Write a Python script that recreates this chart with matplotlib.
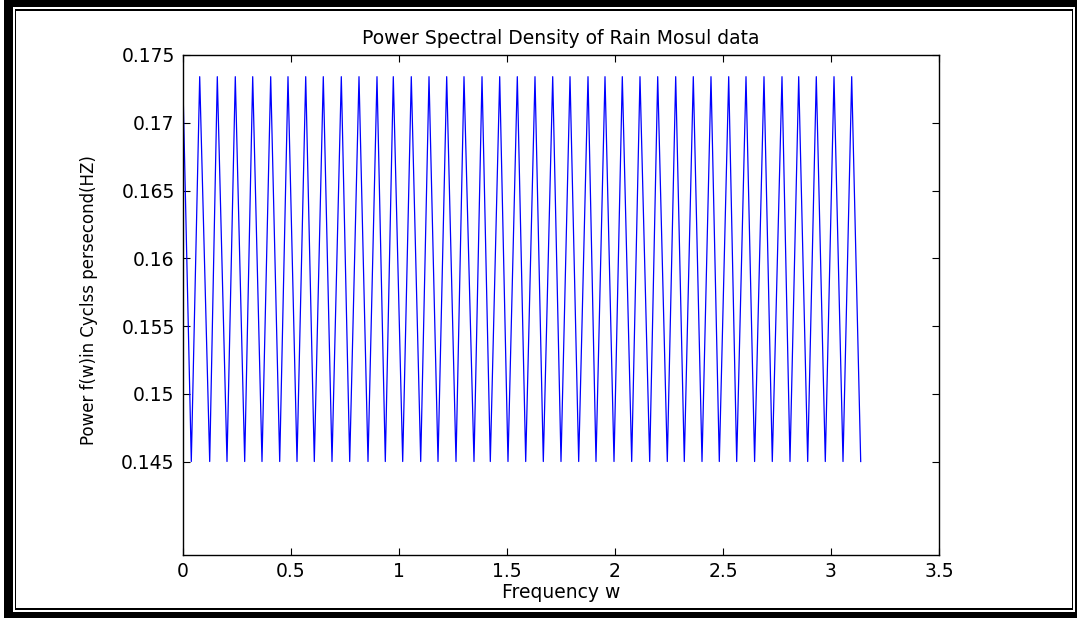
import matplotlib
matplotlib.use("Agg")
import matplotlib.pyplot as plt
from matplotlib.patches import Rectangle

# ---- data ----
start_w = 0.0
start_power = 0.1726
peak_w = [0.0773, 0.1588, 0.2421, 0.3227, 0.4060, 0.4861, 0.5681, 0.6495, 0.7329, 0.8148,
          0.8981, 0.9736, 1.0569, 1.1389, 1.2208, 1.3009, 1.3843, 1.4662, 1.5477, 1.6296,
          1.7116, 1.7917, 1.8750, 1.9537, 2.0338, 2.1157, 2.1977, 2.2810, 2.3625, 2.4444,
          2.5264, 2.6065, 2.6898, 2.7731, 2.8505, 2.9319, 3.0139, 3.0958]
trough_w = [0.0384, 0.1236, 0.2037, 0.2856, 0.3657, 0.4477, 0.5278, 0.6079, 0.6898, 0.7718,
            0.8565, 0.9366, 1.0171, 1.1005, 1.1806, 1.2639, 1.3472, 1.4227, 1.5046, 1.5866,
            1.6681, 1.7500, 1.8319, 1.9120, 1.9954, 2.0773, 2.1606, 2.2421, 2.3208, 2.4028,
            2.4829, 2.5634, 2.6463, 2.7282, 2.8102, 2.8921, 2.9736, 3.0556, 3.1375]
peak_power = 0.1734
trough_power = 0.1450

x_ticks = [0, 0.5, 1, 1.5, 2, 2.5, 3, 3.5]
x_tick_labels = ["0", "0.5", "1", "1.5", "2", "2.5", "3", "3.5"]
y_ticks = [0.145, 0.15, 0.155, 0.16, 0.165, 0.17, 0.175]
y_tick_labels = ["0.145", "0.15", "0.155", "0.16", "0.165", "0.17", "0.175"]

title = "Power Spectral Density of Rain Mosul data"
xlabel = "Frequency w"
ylabel = "Power f(w)in Cyclss persecond(HZ)"

# build the series (alternating troughs and peaks, sorted by frequency)
pts = [(start_w, start_power)]
pts += [(w, peak_power) for w in peak_w]
pts += [(w, trough_power) for w in trough_w]
pts.sort(key=lambda p: p[0])
w_vals = [p[0] for p in pts]
p_vals = [p[1] for p in pts]

plt.rcParams['font.family'] = ['DejaVu Sans']

W, H = 1077, 618
fig = plt.figure(figsize=(W / 100, H / 100), dpi=100)
fig.patch.set_facecolor("white")

L, R, T, B = 183, 939, 55, 555
ax = fig.add_axes([L / W, 1 - B / H, (R - L) / W, (B - T) / H])
ax.plot(w_vals, p_vals, color="#0000ff", lw=0.9)

ax.set_xlim(0, 3.5)
ax.set_ylim(0.1381, 0.175)
ax.set_xticks(x_ticks)
ax.set_xticklabels(x_tick_labels)
ax.set_yticks(y_ticks)
ax.set_yticklabels(y_tick_labels)
ax.tick_params(direction="in", top=True, right=True, length=5, width=0.8,
               labelsize=13.5, colors="black")
ax.tick_params(axis="y", pad=6)
ax.tick_params(axis="x", pad=5)
for s in ax.spines.values():
    s.set_linewidth(1.0)
    s.set_color("black")

ax.set_title(title, fontsize=13.5, pad=8)
ax.set_xlabel(xlabel, fontsize=13.5)
ax.xaxis.set_label_coords(0.5, -0.057)
ax.set_ylabel(ylabel, fontsize=12)
ax.yaxis.set_label_coords(-0.112, 0.51)

# outer double frame (pixel coordinates measured from top-left)
def band(x0, y0, x1, y1):
    fig.add_artist(Rectangle((x0 / W, 1 - y1 / H), (x1 - x0) / W, (y1 - y0) / H,
                             transform=fig.transFigure, facecolor="black",
                             edgecolor="none", zorder=10))

# thick outer frame
band(4, 0, 1077, 7.3)
band(4, 0, 12.7, 618)
band(1075, 0, 1077, 618)
band(4, 612, 1077, 618)
# thin inner line
band(14.7, 9.3, 1073.3, 11.3)
band(14.7, 9.3, 16, 610)
band(1072, 9.3, 1073.3, 610)
band(14.7, 608, 1073.3, 610)

fig.savefig("out.png", dpi=100)
